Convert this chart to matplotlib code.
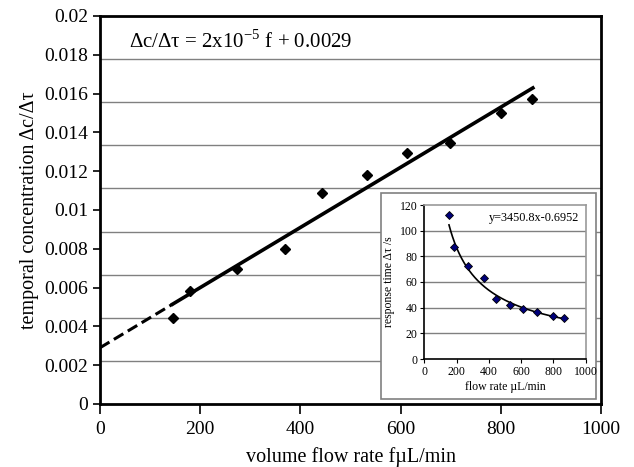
import numpy as np
import matplotlib.pyplot as plt
from matplotlib.patches import Rectangle
from matplotlib.ticker import FuncFormatter

plt.rcParams['font.family'] = ['Liberation Serif', 'DejaVu Serif']
plt.rcParams['mathtext.fontset'] = 'custom'
plt.rcParams['mathtext.rm'] = 'Liberation Serif'

# main chart data
flow = [145, 180, 273, 369, 444, 532, 613, 698, 801, 863]
conc = [0.00445, 0.00580, 0.00695, 0.00797, 0.01086, 0.01182, 0.01295, 0.01347, 0.01498, 0.01572]
fit_slope = 1.55e-5
fit_intercept = 0.0029
fit_start = 145
fit_end = 864

# inset data
in_flow = [153, 186, 273, 372, 444, 531, 612, 698, 799, 866]
in_time = [112, 87, 72.3, 62.9, 46.5, 41.8, 38.7, 36.9, 33.5, 31.7]
pw_a = 3450.8
pw_b = -0.6952

fig = plt.figure(figsize=(6.34, 4.67), dpi=100)
ax = fig.add_axes([100/634, 1-404/467, 501/634, 388/467])

for i in range(1, 9):
    ax.axhline(0.02*i/9, color='#808080', lw=1.0, zorder=1)

xd = np.array([0, fit_start])
ax.plot(xd, fit_slope*xd + fit_intercept, color='black', lw=2.2, ls=(0, (3.6, 1.7)), zorder=3)
xs = np.array([fit_start, fit_end])
ax.plot(xs, fit_slope*xs + fit_intercept, color='black', lw=2.6, zorder=3)
ax.plot(flow, conc, 'D', color='black', ms=5, zorder=4)

ax.set_xlim(0, 1000)
ax.set_ylim(0, 0.02)
ax.set_xticks(range(0, 1001, 200))
ax.set_yticks(np.arange(0, 0.0201, 0.002))
ax.yaxis.set_major_formatter(FuncFormatter(lambda v, p: '%g' % round(v, 4)))
ax.tick_params(direction='out', length=5, width=1.2, labelsize=14, right=False, top=False)
ax.tick_params(axis='x', length=7, pad=5)
for s in ax.spines.values():
    s.set_linewidth(2)
ax.set_xlabel('volume flow rate fµL/min', fontsize=14.5, labelpad=7)
ax.set_ylabel('temporal concentration Δc/Δτ', fontsize=14.5, labelpad=4)
ax.text(57, 0.0187, r'Δc/Δτ = 2x10$^{\mathregular{-5}}$ f + 0.0029', fontsize=15,
        va='center', ha='left')

# inset box
fig.patches.append(Rectangle((381/634, 1-399/467), 215/634, 206/467, transform=fig.transFigure,
                             facecolor='white', edgecolor='#808080', lw=1.2, zorder=5))

ia = fig.add_axes([424.3/634, 1-359/467, 161.4/634, 154/467], zorder=6)
for v in range(20, 120, 20):
    ia.axhline(v, color='#808080', lw=1.0, zorder=1)
xc = np.linspace(in_flow[0], in_flow[-1], 200)
ia.plot(xc, pw_a*xc**pw_b, color='black', lw=1.2, zorder=3)
ia.plot(in_flow, in_time, 'D', color='#00007a', mec='black', mew=0.6, ms=4.5, zorder=4)
ia.set_xlim(0, 1000)
ia.set_ylim(0, 120)
ia.set_xticks(range(0, 1001, 200))
ia.set_yticks(range(0, 121, 20))
ia.tick_params(direction='out', length=3, width=0.8, labelsize=8.5, pad=2)
ia.spines['left'].set_color('black')
ia.spines['bottom'].set_color('black')
ia.spines['top'].set_color('#999999')
ia.spines['right'].set_color('#999999')
for s in ia.spines.values():
    s.set_linewidth(1.2)
ia.set_xlabel('flow rate µL/min', fontsize=8.5, labelpad=2)
ia.set_ylabel('response time Δτ /s', fontsize=8.5, labelpad=3)
ia.text(960, 110, 'y=3450.8x-0.6952', fontsize=8.8, ha='right', va='center')

fig.savefig('out.png', dpi=100)
